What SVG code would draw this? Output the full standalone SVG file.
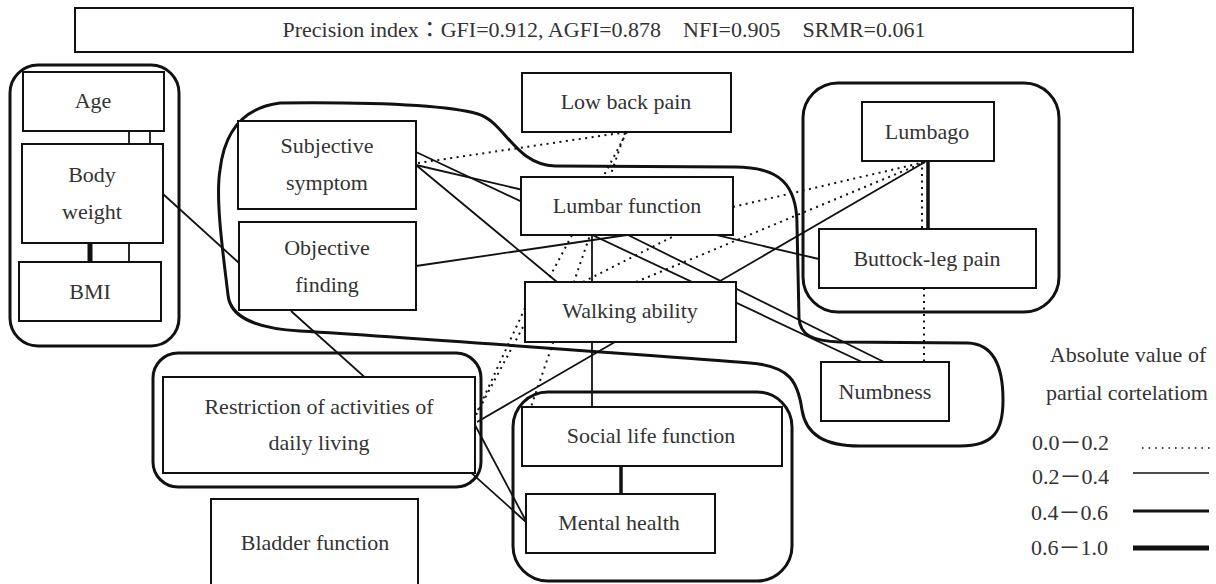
<svg xmlns="http://www.w3.org/2000/svg" width="1216" height="584" viewBox="0 0 1216 584">
<style>
text{font-family:"Liberation Serif","Noto Sans CJK JP",serif;font-size:22px;fill:#333;text-anchor:middle}
.box{fill:#fff;stroke:#111;stroke-width:2}
.grp{fill:none;stroke:#111;stroke-width:3}
.s{stroke:#111;stroke-width:1.8;fill:none}
.d{stroke:#111;stroke-width:2;stroke-dasharray:2 4.5;fill:none}
.t4{stroke:#111;stroke-width:3.5}
.t6{stroke:#111;stroke-width:5}
.lg{text-anchor:start}
</style>
<rect width="1216" height="584" fill="#fff"/>
<g id="title">
<rect x="75" y="8" width="1058" height="44" fill="#fff" stroke="#111" stroke-width="2"/>
<text x="604" y="37">Precision index：GFI=0.912, AGFI=0.878　NFI=0.905　SRMR=0.061</text>
</g>
<g id="groups">
<rect class="grp" x="10" y="65" width="169" height="281" rx="28"/>
<rect class="grp" x="803" y="83" width="256" height="229" rx="35"/>
<rect class="grp" x="153" y="353" width="328" height="134" rx="25"/>
<rect class="grp" x="513" y="392" width="279" height="189" rx="35"/>
<path class="grp" stroke-width="2.6" d="M 280,103 C 380,102 450,106 478,114 C 505,122 515,165 555,166 L 735,167 C 780,167 797,185 797,225 L 799,318 C 800,335 812,341 840,342 L 968,343 C 995,344 1003,370 1003,400 C 1003,430 995,446 960,446 L 860,446 C 825,446 806,435 802,410 C 798,382 790,366 750,363 C 650,356 450,340 300,331 C 250,328 230,315 228,295 C 224,260 215,200 220,170 C 224,135 240,108 280,103 Z"/>
</g>
<g id="connectors">
<line class="s" x1="129" y1="131" x2="129" y2="144"/>
<line class="s" x1="150" y1="131" x2="150" y2="144"/>
<line class="t6" x1="90" y1="243" x2="90" y2="262"/>
<line class="s" x1="129" y1="243" x2="129" y2="262"/>
<line class="s" x1="163" y1="194" x2="239" y2="263"/>
<line class="s" x1="291" y1="311" x2="526" y2="522"/>
<line class="s" x1="475" y1="425" x2="526" y2="521"/>
<line class="s" x1="477" y1="422" x2="925" y2="162"/>
<line class="s" x1="416" y1="152" x2="862" y2="362"/>
<line class="s" x1="416" y1="165" x2="819" y2="259"/>
<line class="s" x1="416" y1="165" x2="557" y2="282"/>
<line class="s" x1="416" y1="266" x2="627" y2="235"/>
<line class="s" x1="628" y1="235" x2="884" y2="362"/>
<line class="s" x1="592" y1="235" x2="592" y2="282"/>
<line class="s" x1="592" y1="342" x2="592" y2="407"/>
<line class="t4" x1="928" y1="161" x2="928" y2="229"/>
<line class="t4" x1="621" y1="466" x2="621" y2="494"/>
<line class="d" x1="418" y1="163" x2="627" y2="132"/>
<line class="d" x1="627" y1="132" x2="476" y2="415"/>
<line class="d" x1="625" y1="133" x2="531" y2="407"/>
<line class="d" x1="525" y1="308" x2="478" y2="410"/>
<line class="d" x1="583" y1="282" x2="676" y2="235"/>
<line class="d" x1="636" y1="282" x2="925" y2="162"/>
<line class="d" x1="733" y1="207" x2="925" y2="162"/>
<line class="d" x1="922" y1="161" x2="922" y2="229"/>
<line class="d" x1="924" y1="288" x2="924" y2="362"/>
</g>
<g id="age"><rect class="box" x="23" y="72" width="141" height="59"/><text x="93" y="108">Age</text></g>
<g id="body-weight"><rect class="box" x="22" y="144" width="141" height="99"/><text x="92" y="182">Body</text><text x="92" y="219">weight</text></g>
<g id="bmi"><rect class="box" x="19" y="262" width="142" height="59"/><text x="90" y="299">BMI</text></g>
<g id="subjective-symptom"><rect class="box" x="238" y="121" width="178" height="88"/><text x="327" y="153">Subjective</text><text x="327" y="190">symptom</text></g>
<g id="objective-finding"><rect class="box" x="239" y="222" width="177" height="88"/><text x="327" y="255">Objective</text><text x="327" y="292">finding</text></g>
<g id="low-back-pain"><rect class="box" x="522" y="73" width="209" height="59"/><text x="626" y="109">Low back pain</text></g>
<g id="lumbar-function"><rect class="box" x="521" y="177" width="212" height="58"/><text x="627" y="213">Lumbar function</text></g>
<g id="walking-ability"><rect class="box" x="525" y="282" width="211" height="60"/><text x="630" y="318">Walking ability</text></g>
<g id="social-life-function"><rect class="box" x="522" y="407" width="260" height="59"/><text x="651" y="443">Social life function</text></g>
<g id="mental-health"><rect class="box" x="526" y="494" width="189" height="59"/><text x="619" y="530">Mental health</text></g>
<g id="lumbago"><rect class="box" x="862" y="102" width="132" height="59"/><text x="927" y="139">Lumbago</text></g>
<g id="buttock-leg-pain"><rect class="box" x="819" y="229" width="217" height="59"/><text x="927" y="266">Buttock-leg pain</text></g>
<g id="numbness"><rect class="box" x="821" y="362" width="128" height="59"/><text x="885" y="399">Numbness</text></g>
<g id="restriction"><rect class="box" x="163" y="377" width="312" height="96"/><text x="319" y="414">Restriction of activities of</text><text x="319" y="450">daily living</text></g>
<g id="bladder-function"><rect class="box" x="211" y="499" width="207" height="100"/><text x="315" y="550">Bladder function</text></g>
<g id="legend">
<text x="1128" y="362">Absolute value of</text>
<text x="1127" y="400">partial cortelatiom</text>
<text class="lg" x="1032" y="450">0.0－0.2</text>
<text class="lg" x="1032" y="484">0.2－0.4</text>
<text class="lg" x="1031" y="520">0.4－0.6</text>
<text class="lg" x="1031" y="555">0.6－1.0</text>
<line x1="1142" y1="448" x2="1212" y2="448" stroke="#111" stroke-width="1.6" stroke-dasharray="1.6 5"/>
<line x1="1133" y1="473" x2="1209" y2="473" stroke="#111" stroke-width="1.5"/>
<line x1="1133" y1="511" x2="1209" y2="511" stroke="#111" stroke-width="3.2"/>
<line x1="1133" y1="548" x2="1209" y2="548" stroke="#111" stroke-width="5"/>
</g>
</svg>
